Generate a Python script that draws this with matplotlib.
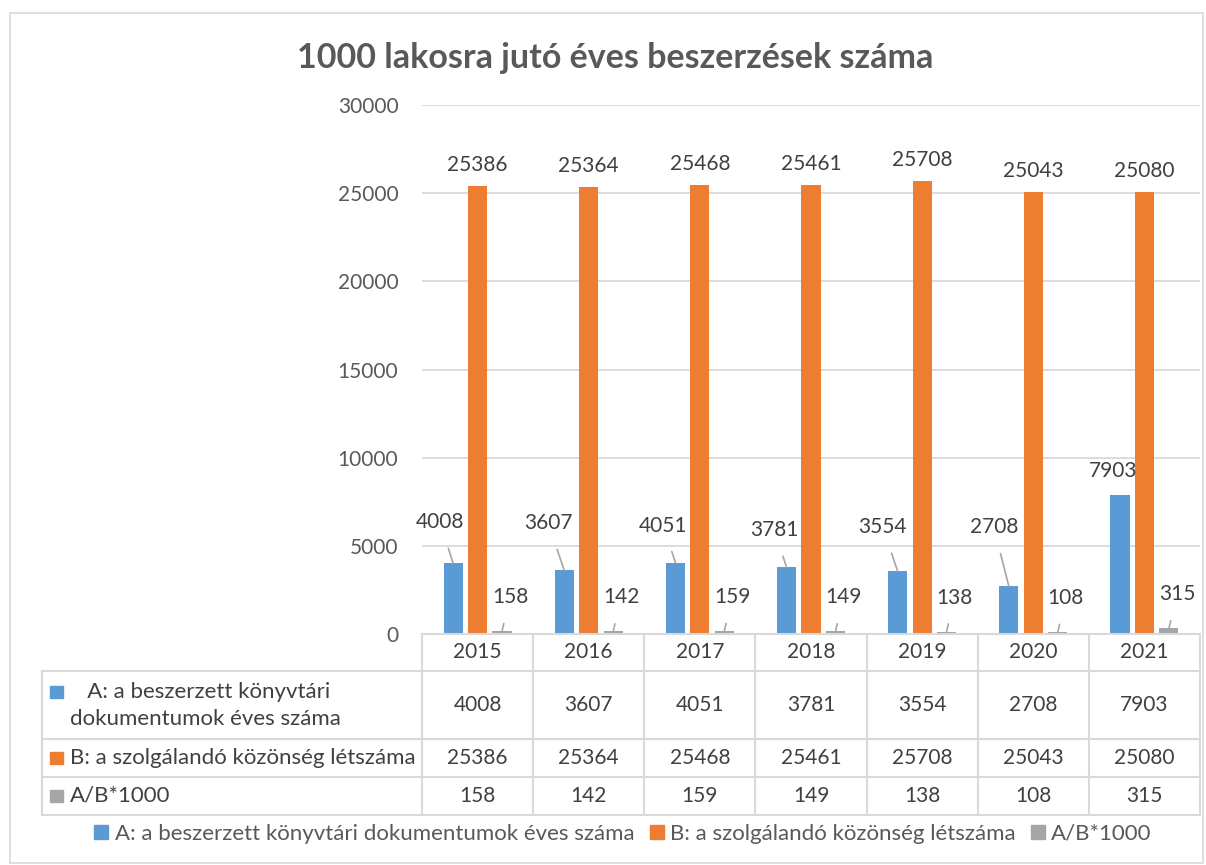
import matplotlib.pyplot as plt
import numpy as np
from matplotlib.patches import Rectangle
from matplotlib.lines import Line2D

plt.rcParams['font.family'] = ['Lato', 'DejaVu Sans']

# data
years = ['2015', '2016', '2017', '2018', '2019', '2020', '2021']
beszerzett = [4008, 3607, 4051, 3781, 3554, 2708, 7903]
kozonseg = [25386, 25364, 25468, 25461, 25708, 25043, 25080]
arany = [158, 142, 159, 149, 138, 108, 315]

series_names = ['A: a beszerzett könyvtári dokumentumok éves száma',
                'B: a szolgálandó közönség létszáma',
                'A/B*1000']
row_labels = [['   A: a beszerzett könyvtári', 'dokumentumok éves száma'],
              ['B: a szolgálandó közönség létszáma'],
              ['A/B*1000']]
colors = ['#5b9bd5', '#ed7d31', '#a5a5a5']

# label offsets in pixels (layout only)
a_offsets = [(-13, 41), (-16, 47), (-12, 37), (-12, 37), (-15, 44), (-15, 59), (-7, 24)]

NUM = 15    # numbers
TXT = 16    # text labels

W, H = 1206, 865
fig = plt.figure(figsize=(W / 100, H / 100), dpi=100)

def box(x0, y0, x1, y1):
    return [x0 / W, 1 - y1 / H, (x1 - x0) / W, (y1 - y0) / H]

# outer chart border
fig.add_artist(Rectangle((10 / W, 0.002), (1203 - 10) / W, 1 - 13 / H - 0.002,
                         transform=fig.transFigure, fill=False,
                         edgecolor='#d9d9d9', lw=1.2))

fig.text(615 / W, 1 - 58 / H, '1000 lakosra jutó éves beszerzések száma',
         ha='center', va='center', fontsize=24.5, fontweight='bold', color='#595959')

ax = fig.add_axes(box(422, 105, 1200, 634))
x = np.arange(len(years))
off = 0.22
bw = 0.172
ax.bar(x - off, beszerzett, bw, color=colors[0], zorder=3)
ax.bar(x, kozonseg, bw, color=colors[1], zorder=3)
ax.bar(x + off, arany, bw, color=colors[2], zorder=3)

ax.set_xlim(-0.5, 6.5)
ax.set_ylim(0, 30000)
ax.set_yticks(range(0, 30001, 5000))
ax.set_xticks([])
ax.grid(axis='y', color='#d9d9d9', lw=1.3, zorder=0)
for s in ax.spines.values():
    s.set_visible(False)
ax.tick_params(axis='y', left=False, length=0, labelsize=NUM, labelcolor='#595959', pad=17)

line_kw = dict(arrowstyle='-', color='#a6a6a6', lw=1.2)
for i, v in enumerate(beszerzett):
    dx, dy = a_offsets[i]
    arrow = dict(line_kw, shrinkA=10, shrinkB=0) if dy > 30 else None
    ax.annotate(str(v), xy=(x[i] - off, v), xytext=(dx, dy), textcoords='offset pixels',
                ha='center', va='center', fontsize=NUM, color='#404040',
                arrowprops=arrow, zorder=4)
for i, v in enumerate(kozonseg):
    ax.annotate(str(v), xy=(x[i], v), xytext=(0, 21), textcoords='offset pixels',
                ha='center', va='center', fontsize=NUM, color='#404040')
for i, v in enumerate(arany):
    ax.annotate(str(v), xy=(x[i] + off, v), xytext=(8, 34), textcoords='offset pixels',
                ha='center', va='center', fontsize=NUM, color='#404040',
                arrowprops=dict(line_kw, shrinkA=10, shrinkB=0))

# data table under the axis
tax = fig.add_axes(box(42, 634, 1200, 815))
px = 778 / 7  # pixels per category
left = -0.5 - 380 / px
tax.set_xlim(left, 6.5)
tax.set_ylim(815, 634)
tax.axis('off')
gc = '#d9d9d9'
row_edges = [634, 671, 739, 777, 815]
tax.plot([-0.5, 6.5], [634, 634], color=gc, lw=1.5, clip_on=False)
for yy in row_edges[1:]:
    tax.plot([left, 6.5], [yy, yy], color=gc, lw=1.5, clip_on=False)
for k in range(8):
    tax.plot([k - 0.5, k - 0.5], [634, 815], color=gc, lw=1.5, clip_on=False)
tax.plot([left, left], [671, 815], color=gc, lw=1.5, clip_on=False)

for i, yr in enumerate(years):
    tax.text(x[i], (634 + 671) / 2, yr, ha='center', va='center', fontsize=NUM, color='#404040')

def xpix(p):
    return left + (p - 42) / px

for r, vals in enumerate([beszerzett, kozonseg, arany]):
    yc = (row_edges[r + 1] + row_edges[r + 2]) / 2
    for i, v in enumerate(vals):
        tax.text(x[i], yc, str(v), ha='center', va='center', fontsize=NUM, color='#404040')
    lines = row_labels[r]
    my = yc - 13 if len(lines) > 1 else yc
    tax.add_patch(Rectangle((xpix(50), my - 6), 13 / px, 12, color=colors[r], clip_on=False))
    if len(lines) > 1:
        tax.text(xpix(70), yc - 13, lines[0], ha='left', va='center', fontsize=TXT, color='#404040')
        tax.text(xpix(70), yc + 14, lines[1], ha='left', va='center', fontsize=TXT, color='#404040')
    else:
        tax.text(xpix(70), yc, lines[0], ha='left', va='center', fontsize=TXT, color='#404040')

handles = [Line2D([], [], marker='s', linestyle='', markersize=10, color=c) for c in colors]
leg = fig.legend(handles, series_names, loc='center', bbox_to_anchor=(622 / W, 1 - 834 / H),
                 ncol=3, frameon=False, fontsize=TXT, handlelength=0.8, handletextpad=0.2,
                 columnspacing=0.6)
for t in leg.get_texts():
    t.set_color('#595959')

fig.savefig('out.png', dpi=100)
